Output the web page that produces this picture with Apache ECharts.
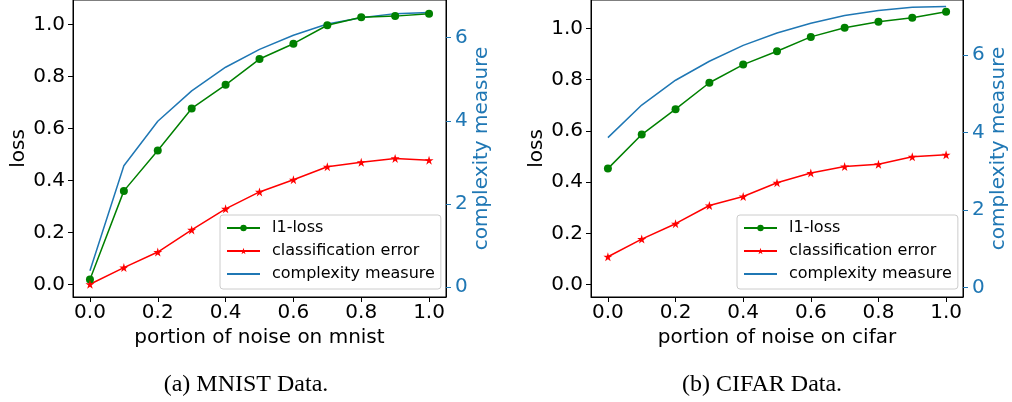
<!DOCTYPE html>
<html>
<head>
<meta charset="utf-8">
<script src="https://cdn.jsdelivr.net/npm/echarts@6/dist/echarts.min.js"></script>
<style>
html,body{margin:0;padding:0;background:#fff;}
#chart{width:1012px;height:402px;}
</style>
</head>
<body>
<div id="chart"></div>
<script>
// ---- data ----
const noise = [0.0, 0.1, 0.2, 0.3, 0.4, 0.5, 0.6, 0.7, 0.8, 0.9, 1.0];
const xTicks = [0, 0.2, 0.4, 0.6, 0.8, 1.0];
const lossTicks = [0, 0.2, 0.4, 0.6, 0.8, 1.0];
const complexityTicks = [0, 2, 4, 6];

const mnistL1 = [0.019, 0.360, 0.515, 0.677, 0.768, 0.867, 0.926, 0.997, 1.028, 1.032, 1.041];
const mnistErr = [0.001, 0.065, 0.125, 0.210, 0.291, 0.356, 0.403, 0.453, 0.470, 0.485, 0.478];
const mnistComplexity = [0.39, 2.92, 3.99, 4.72, 5.29, 5.72, 6.06, 6.33, 6.48, 6.58, 6.61];

const cifarL1 = [0.453, 0.586, 0.685, 0.788, 0.859, 0.911, 0.967, 1.003, 1.026, 1.042, 1.065];
const cifarErr = [0.109, 0.178, 0.238, 0.309, 0.344, 0.398, 0.436, 0.461, 0.470, 0.499, 0.507];
const cifarComplexity = [3.87, 4.71, 5.35, 5.84, 6.25, 6.57, 6.82, 7.02, 7.15, 7.23, 7.25];

const seriesNames = ['l1-loss', 'classification error', 'complexity measure'];
const xNames = ['portion of noise on mnist', 'portion of noise on cifar'];
const captions = ['(a) MNIST Data.', '(b) CIFAR Data.'];

// ---- styling ----
const FONT = 'DejaVu Sans';
const BLUE = '#1f77b4';
const GREEN = '#008000';
const RED = '#ff0000';
const STAR = 'path://M50,0 L61.2,34.5 L97.6,34.5 L68.2,55.9 L79.4,90.5 L50,69.1 L20.6,90.5 L31.8,55.9 L2.4,34.5 L38.8,34.5 Z';

const pairs = (ys) => noise.map((x, i) => [x, ys[i]]);

const grids = [
  {left: 73, top: 0, width: 373, height: 297},
  {left: 591, top: 0, width: 372, height: 297}
];
const lossRange = [[-0.048, 1.094], [-0.048, 1.111]];
const compRange = [[-0.241, 6.908], [-0.243, 7.42]];
const legendPos = [{left: 220, top: 215}, {left: 737, top: 215}];
const captionX = [246, 762];

const option = {
  animation: false,
  backgroundColor: '#fff',
  grid: grids.map(g => Object.assign({show: true, borderColor: '#000', borderWidth: 1, backgroundColor: 'transparent'}, g)),
  xAxis: [0, 1].map(i => ({
    type: 'value', gridIndex: i, min: -0.05, max: 1.05,
    name: xNames[i], nameLocation: 'middle', nameGap: 30,
    nameTextStyle: {fontFamily: FONT, fontSize: 20, color: '#000'},
    axisLine: {show: true, onZero: false, lineStyle: {color: '#000', width: 1}},
    axisTick: {show: true, customValues: xTicks, length: 5, lineStyle: {color: '#000', width: 1}},
    axisLabel: {customValues: xTicks, margin: 6, fontFamily: FONT, fontSize: 20, color: '#000',
      formatter: v => v.toFixed(1)},
    splitLine: {show: false}
  })),
  yAxis: [],
  legend: [],
  series: [],
  graphic: captions.map((c, i) => ({
    type: 'text', x: captionX[i], y: 385,
    style: {text: c, fontFamily: 'Liberation Serif', fontSize: 24, fill: '#000',
      align: 'center', verticalAlign: 'middle'}
  }))
};

[0, 1].forEach(i => {
  option.yAxis.push({
    type: 'value', gridIndex: i, position: 'left', min: lossRange[i][0], max: lossRange[i][1],
    name: 'loss', nameLocation: 'middle', nameRotate: 90, nameGap: 43,
    nameTextStyle: {fontFamily: FONT, fontSize: 20, color: '#000'},
    axisLine: {show: true, onZero: false, lineStyle: {color: '#000', width: 1}},
    axisTick: {show: true, customValues: lossTicks, length: 5, lineStyle: {color: '#000', width: 1}},
    axisLabel: {customValues: lossTicks, margin: 8, fontFamily: FONT, fontSize: 20, color: '#000',
      formatter: v => v.toFixed(1)},
    splitLine: {show: false}
  });
  option.yAxis.push({
    type: 'value', gridIndex: i, position: 'right', min: compRange[i][0], max: compRange[i][1],
    name: 'complexity measure', nameLocation: 'middle', nameRotate: 90, nameGap: 25,
    nameTextStyle: {fontFamily: FONT, fontSize: 20, color: BLUE},
    axisLine: {show: true, onZero: false, lineStyle: {color: '#000', width: 1}},
    axisTick: {show: true, customValues: complexityTicks, length: 5, lineStyle: {color: BLUE, width: 1}},
    axisLabel: {customValues: complexityTicks, margin: 9, fontFamily: FONT, fontSize: 20, color: BLUE,
      formatter: v => String(Math.round(v))},
    splitLine: {show: false}
  });
});

const dataSets = [
  [mnistL1, mnistErr, mnistComplexity],
  [cifarL1, cifarErr, cifarComplexity]
];

[0, 1].forEach(i => {
  const [l1, err, comp] = dataSets[i];
  option.series.push({
    name: seriesNames[0], type: 'line', xAxisIndex: i, yAxisIndex: 2 * i,
    data: pairs(l1), symbol: 'circle', symbolSize: 8, showSymbol: true,
    lineStyle: {color: GREEN, width: 1.5}, itemStyle: {color: GREEN}, z: 3
  });
  option.series.push({
    name: seriesNames[1], type: 'line', xAxisIndex: i, yAxisIndex: 2 * i,
    data: pairs(err), symbol: STAR, symbolSize: 9, showSymbol: true,
    lineStyle: {color: RED, width: 1.5}, itemStyle: {color: RED}, z: 3
  });
  option.series.push({
    name: seriesNames[2], type: 'line', xAxisIndex: i, yAxisIndex: 2 * i + 1,
    data: pairs(comp), symbol: 'none', showSymbol: false,
    lineStyle: {color: BLUE, width: 1.5}, itemStyle: {color: BLUE}, z: 2
  });
  option.legend.push({
    left: legendPos[i].left, top: legendPos[i].top, orient: 'vertical',
    data: [
      {name: seriesNames[0]},
      {name: seriesNames[1]},
      {name: seriesNames[2], itemStyle: {opacity: 0}}
    ],
    itemWidth: 33, itemHeight: 8, itemGap: 7,
    padding: [5, 6, 7, 6],
    backgroundColor: 'rgba(255,255,255,0.8)', borderColor: '#cccccc', borderWidth: 1, borderRadius: 3,
    textStyle: {fontFamily: FONT, fontSize: 16, color: '#000', lineHeight: 16, padding: [0, 0, 0, 7]},
    selectedMode: false
  });
});

const chart = echarts.init(document.getElementById('chart'), null, {renderer: 'canvas'});
chart.setOption(option);
</script>
</body>
</html>
